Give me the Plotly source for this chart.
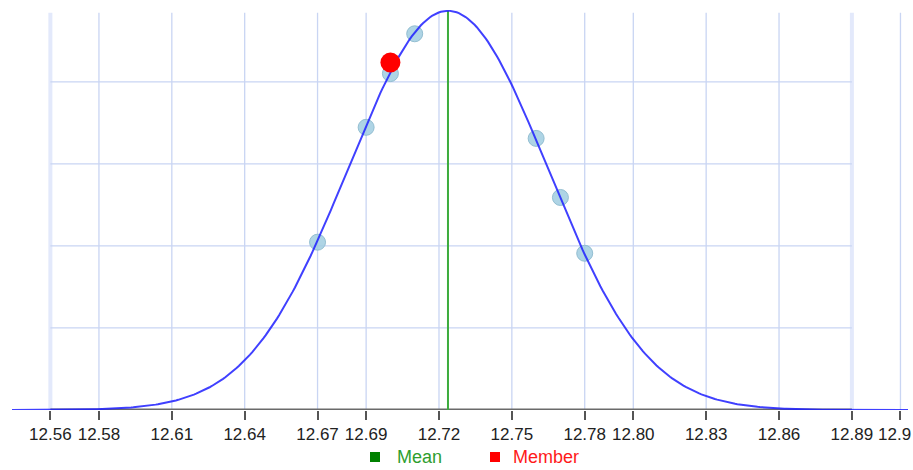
import numpy as np
import plotly.graph_objects as go

# ---- data ----
mean_value = 12.7237
std_value = 0.041
tick_values = [12.56, 12.58, 12.61, 12.64, 12.67, 12.69, 12.72, 12.75, 12.78, 12.80, 12.83, 12.86, 12.89, 12.91]
tick_labels = ["12.56", "12.58", "12.61", "12.64", "12.67", "12.69", "12.72", "12.75", "12.78", "12.80", "12.83", "12.86", "12.89", "12.9"]
sample_x = [12.67, 12.69, 12.70, 12.71, 12.76, 12.77, 12.78]
sample_y = [4.09, 6.89, 8.20, 9.17, 6.62, 5.18, 3.82]
member_x = [12.70]
member_y = [8.47]
grid_y = [2, 4, 6, 8]
x_min, x_max = 12.5442, 12.9131

# normal curve for the stated mean / sd
curve_x = np.linspace(x_min, x_max, 400)
curve_y = np.exp(-0.5 * ((curve_x - mean_value) / std_value) ** 2) / (std_value * np.sqrt(2 * np.pi))
peak = float(curve_y.max())

# body margin is removed by the post script below
OFF = 0
PL, PT, PW, PH = 12, 10, 896, 400   # plot area in window pixels


def px_x(p):
    return (p - PL) / PW


def px_y(p):
    return (PT + PH - p) / PH


fig = go.Figure()

grid_color = "#c9d5f3"
edge_color = "#e3e9fb"
shapes = []
for i, tv in enumerate(tick_values):
    edge = (i == 0 or i == len(tick_values) - 2)
    shapes.append(dict(type="line", xref="x", yref="y", x0=tv, x1=tv, y0=0, y1=peak * 0.995,
                       line=dict(color=edge_color if edge else grid_color, width=4 if edge else 1.3),
                       layer="below"))
for gy in grid_y:
    shapes.append(dict(type="line", xref="x", yref="y", x0=tick_values[0], x1=tick_values[-2], y0=gy, y1=gy,
                       line=dict(color=grid_color, width=1.3), layer="below"))
# axis baseline
shapes.append(dict(type="line", xref="x", yref="y", x0=tick_values[0], x1=tick_values[-2], y0=0, y1=0,
                   line=dict(color="#6a6a6a", width=3), layer="below"))
# legend squares
shapes.append(dict(type="rect", xref="paper", yref="paper",
                   x0=px_x(370), x1=px_x(380), y0=px_y(462), y1=px_y(452),
                   fillcolor="#008000", line=dict(width=0)))
shapes.append(dict(type="rect", xref="paper", yref="paper",
                   x0=px_x(490), x1=px_x(500), y0=px_y(462), y1=px_y(452),
                   fillcolor="#ff0000", line=dict(width=0)))

fig.add_trace(go.Scatter(x=sample_x, y=sample_y, mode="markers",
                         marker=dict(size=16, color="rgba(160,205,225,0.85)",
                                     line=dict(color="rgba(140,185,205,0.9)", width=1)),
                         hoverinfo="skip", showlegend=False))
fig.add_trace(go.Scatter(x=[mean_value, mean_value], y=[0, peak], mode="lines",
                         line=dict(color="#3cac3c", width=2), showlegend=False))
fig.add_trace(go.Scatter(x=curve_x, y=curve_y, mode="lines",
                         line=dict(color="rgba(30,30,255,0.85)", width=2), showlegend=False))
fig.add_trace(go.Scatter(x=member_x, y=member_y, mode="markers",
                         marker=dict(size=20, color="#ff0000"), showlegend=False))

# last tick label sits at the window edge: draw it right-aligned so it stays whole
axis_labels = tick_labels[:-1] + [""]

W, H = 913 - OFF, 470 - OFF
fig.update_layout(
    width=W, height=H,
    margin=dict(l=PL - OFF, r=W - (PL - OFF) - PW, t=PT - OFF, b=H - (PT - OFF) - PH, autoexpand=False),
    paper_bgcolor="white", plot_bgcolor="white",
    font=dict(family="Liberation Sans, Arial, sans-serif", size=17, color="#222222"),
    shapes=shapes,
    xaxis=dict(range=[x_min, x_max], tickmode="array", tickvals=tick_values, ticktext=axis_labels,
               showgrid=False, zeroline=False, showline=False, automargin=False,
               ticklabeloverflow="allow",
               ticks="outside", ticklen=9, tickwidth=2, tickcolor="#555555",
               tickfont=dict(size=17, color="#222222")),
    yaxis=dict(range=[0, peak * 1.002], showgrid=False, zeroline=False, showline=False,
               showticklabels=False, ticks="", automargin=False),
    annotations=[
        dict(text=tick_labels[-1], xref="paper", yref="paper", x=px_x(913), y=px_y(434),
             xanchor="right", yanchor="middle", showarrow=False,
             font=dict(size=17, color="#222222")),
        dict(text="Mean", xref="paper", yref="paper", x=px_x(395), y=px_y(457),
             xanchor="left", yanchor="middle", showarrow=False,
             font=dict(size=18, color="#2e9e2e")),
        dict(text="Member", xref="paper", yref="paper", x=px_x(511), y=px_y(457),
             xanchor="left", yanchor="middle", showarrow=False,
             font=dict(size=18, color="#ff1a1a")),
    ],
    showlegend=False,
)

fig.write_html(
    "out.html",
    config={"displayModeBar": False},
    post_script="document.body.style.margin='0';document.documentElement.style.overflow='hidden';",
)
